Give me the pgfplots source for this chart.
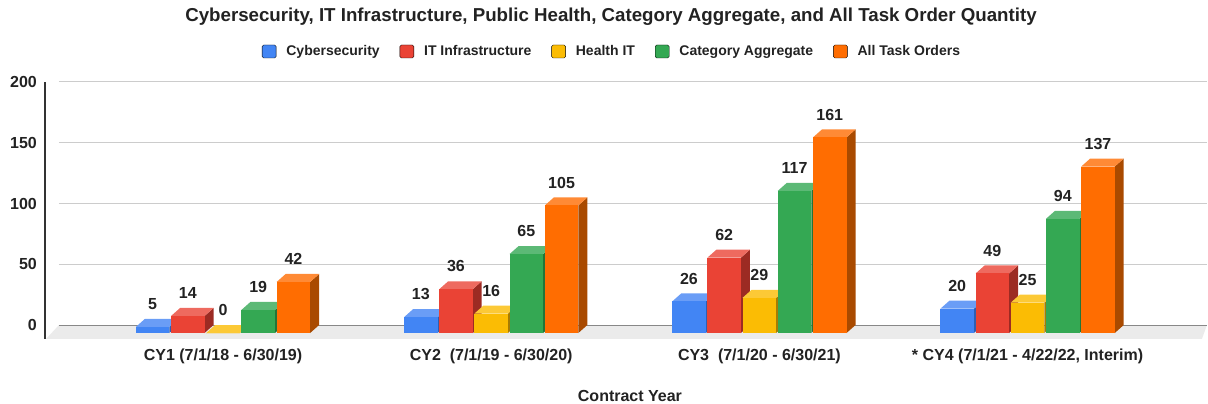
\documentclass[border=0pt]{standalone}
\usepackage{pgfplots}
\pgfplotsset{compat=1.18}
\usepackage{fontspec}
\setmainfont{Liberation Sans}

\definecolor{cyb}{HTML}{4285F4}\definecolor{cybtop}{HTML}{6A9DF6}\definecolor{cybside}{HTML}{2E5FB2}
\definecolor{itc}{HTML}{EA4335}\definecolor{itctop}{HTML}{EE6A5F}\definecolor{itcside}{HTML}{9C2B23}
\definecolor{hit}{HTML}{FBBC04}\definecolor{hittop}{HTML}{FCC936}\definecolor{hitside}{HTML}{A67C03}
\definecolor{agg}{HTML}{34A853}\definecolor{aggtop}{HTML}{5CB976}\definecolor{aggside}{HTML}{237538}
\definecolor{allc}{HTML}{FF6D01}\definecolor{allctop}{HTML}{FF8A35}\definecolor{allcside}{HTML}{A94A00}
\definecolor{txt}{HTML}{222222}
\definecolor{gridc}{HTML}{CCCCCC}
\definecolor{zeroc}{HTML}{888888}
\definecolor{floorc}{HTML}{EBEBEB}
\definecolor{axisc}{HTML}{333333}

% geometry in axis units
\def\bstep{0.13125}   % distance between bars in a group
\def\bw{0.12491}      % bar width
\def\ddx{0.03356}     % depth, x
\def\ddy{6.584}       % depth, y

% #1 category index, #2 bar index in group (0..4), #3 value, #4 colour name
\newcommand\threedbar[4]{%
  \pgfmathsetmacro\xC{#1+(#2-2)*\bstep}%
  \pgfmathsetmacro\xL{\xC-\bw/2}%
  \pgfmathsetmacro\xR{\xC+\bw/2}%
  \pgfmathsetmacro\xLb{\xL+\ddx}%
  \pgfmathsetmacro\xRb{\xR+\ddx}%
  \pgfmathsetmacro\yT{#3-\ddy}%
  \pgfmathsetmacro\yBf{-\ddy}%
  \addplot[forget plot, draw=none, fill=#4side] coordinates {(\xR,\yBf) (\xRb,0) (\xRb,#3) (\xR,\yT)};
  \addplot[forget plot, draw=none, fill=#4top] coordinates {(\xL,\yT) (\xR,\yT) (\xRb,#3) (\xLb,#3)};
  \addplot[forget plot, draw=none, fill=#4] coordinates {(\xL,\yBf) (\xR,\yBf) (\xR,\yT) (\xL,\yT)};
  \addplot[forget plot, draw=none, mark=none, nodes near coords,
    every node near coord/.append style={anchor=base, yshift=9.3pt, inner sep=0pt,
      font=\bfseries\fontsize{16}{19}\selectfont, text=txt}] coordinates {(\xC,#3)};
}

\begin{document}
\begin{tikzpicture}
\useasboundingbox (0,0) rectangle (1208pt,404pt);
\begin{axis}[
  at={(45pt,65pt)}, anchor=south west,
  scale only axis, width=1162pt, height=257pt,
  xmin=-0.6637, xmax=3.669, ymin=-11.52, ymax=200,
  clip=false,
  axis x line*=bottom, axis y line*=left,
  x axis line style={draw=none},
  y axis line style={draw=axisc, line width=1pt, -},
  major tick length=0pt,
  tick style={draw=none},
  /pgf/number format/assume math mode=true,
  xtick={0,1,2,3},
  xticklabels={{CY1 (7/1/18 - 6/30/19)},{CY2~ (7/1/19 - 6/30/20)},{CY3~ (7/1/20 - 6/30/21)},{* CY4 (7/1/21 - 4/22/22, Interim)}},
  xticklabel style={anchor=base, inner sep=0pt, yshift=-22pt, font=\bfseries\fontsize{16}{19}\selectfont, text=txt},
  ytick={0,50,100,150,200},
  yticklabel style={anchor=east, inner sep=0pt, xshift=-8pt, font=\bfseries\fontsize{16}{19}\selectfont, text=txt},
  xlabel={Contract Year},
  xlabel style={at={(axis description cs:0.5034,-0.244)}, anchor=base, inner sep=0pt, font=\bfseries\fontsize{16}{19}\selectfont, text=txt},
  title={Cybersecurity, IT Infrastructure, Public Health, Category Aggregate, and All Task Order Quantity},
  title style={at={(axis description cs:0.4871,1.2135)}, anchor=base, inner sep=0pt, font=\bfseries\fontsize{18.7}{22}\selectfont, text=txt},
  legend columns=5,
  legend cell align=left,
  legend image code/.code={\fill[#1, rounded corners=1.5pt] (0pt,-6.5pt) rectangle (14pt,6.5pt);},
  legend style={draw=none, fill=none, at={(axis description cs:0.4871,1.1187)}, anchor=center,
    font=\bfseries\fontsize{14}{16}\selectfont, text=txt,
    nodes={inner sep=0pt},
    /tikz/every odd column/.append style={column sep=10pt},
    /tikz/every even column/.append style={column sep=20pt}},
]
% floor
\fill[floorc] (axis cs:-0.660,-11.52) -- (axis cs:3.650,-11.52) -- (axis cs:3.669,0) -- (axis cs:-0.6115,0) -- cycle;
% grid lines on the back wall
\pgfplotsinvokeforeach{50,100,150,200}{\draw[gridc, line width=1pt] (axis cs:-0.6115,#1) -- (axis cs:3.669,#1);}
\draw[zeroc, line width=1pt] (axis cs:-0.6115,0) -- (axis cs:3.669,0);

\addlegendimage{fill=cyb}\addlegendentry{Cybersecurity}
\addlegendimage{fill=itc}\addlegendentry{IT Infrastructure}
\addlegendimage{fill=hit}\addlegendentry{Health IT}
\addlegendimage{fill=agg}\addlegendentry{Category Aggregate}
\addlegendimage{fill=allc}\addlegendentry{All Task Orders}

% CY1
\threedbar{0}{0}{5}{cyb}
\threedbar{0}{1}{14}{itc}
\threedbar{0}{2}{0}{hit}
\threedbar{0}{3}{19}{agg}
\threedbar{0}{4}{42}{allc}
% CY2
\threedbar{1}{0}{13}{cyb}
\threedbar{1}{1}{36}{itc}
\threedbar{1}{2}{16}{hit}
\threedbar{1}{3}{65}{agg}
\threedbar{1}{4}{105}{allc}
% CY3
\threedbar{2}{0}{26}{cyb}
\threedbar{2}{1}{62}{itc}
\threedbar{2}{2}{29}{hit}
\threedbar{2}{3}{117}{agg}
\threedbar{2}{4}{161}{allc}
% CY4
\threedbar{3}{0}{20}{cyb}
\threedbar{3}{1}{49}{itc}
\threedbar{3}{2}{25}{hit}
\threedbar{3}{3}{94}{agg}
\threedbar{3}{4}{137}{allc}
\end{axis}
\end{tikzpicture}
\end{document}
